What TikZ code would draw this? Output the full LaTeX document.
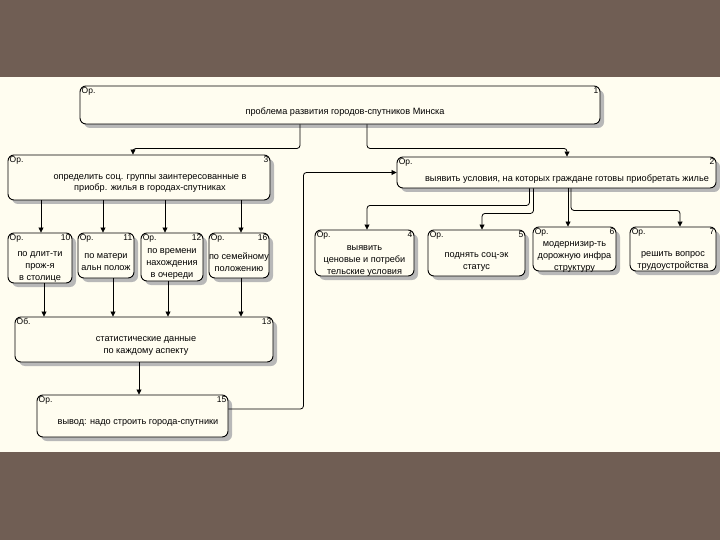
\documentclass[tikz,border=0pt]{standalone}
\usepackage{fontspec}
\setmainfont{Liberation Sans}
\usetikzlibrary{arrows.meta,shadows}

\definecolor{frame}{RGB}{112,94,84}
\definecolor{paper}{RGB}{255,253,240}

\tikzset{
  blk/.style={draw, line width=0.9bp, rounded corners=6bp, fill=paper, inner sep=0pt,
    drop shadow={shadow xshift=4bp, shadow yshift=-4bp, fill=black!28, opacity=1}},
  tag/.style={anchor=north west, inner sep=2bp, font=\fontsize{8.5}{9}\selectfont},
  num/.style={anchor=north east, inner sep=2bp, font=\fontsize{8.5}{9}\selectfont},
  txt/.style={align=center, inner sep=0pt, font=\fontsize{9.2}{11.8}\selectfont},
  arr/.style={-{Triangle[length=5bp,width=5bp]}, line width=0.8bp, rounded corners=3bp}
}

\begin{document}
\begin{tikzpicture}[x=1bp, y=-1bp]
        % Slide frame
        \fill[frame] (0,0) rectangle (720,540);
        \fill[paper] (0,77) rectangle (720,452);
        \useasboundingbox (0,0) rectangle (720,540);

        % Top-level problem
        \node[blk, minimum width=520bp, minimum height=38bp] (b1) at (340,105) {};
        \node[tag] (b1o) at (b1.north west) {Ор.};
        \node[num] (b1n) at (b1.north east) {1};
        \node[txt] (t1) at (345,112) {проблема развития городов-спутников Минска};

        % Social groups
        \node[blk, minimum width=262bp, minimum height=45bp] (b3) at (139,177.5) {};
        \node[tag] (b3o) at (b3.north west) {Ор.};
        \node[num] (b3n) at (b3.north east) {3};
        \node[txt] (t3) at (150,183.5) {определить соц. группы заинтересованные в\\приобр. жилья в городах-спутниках};

        % Purchase conditions
        \node[blk, minimum width=319bp, minimum height=31bp] (b2) at (556.5,172.5) {};
        \node[tag] (b2o) at (b2.north west) {Ор.};
        \node[num] (b2n) at (b2.north east) {2};
        \node[txt] (t2) at (567,179) {выявить условия, на которых граждане готовы приобретать жилье};

        % Grouping criteria
        \node[blk, minimum width=64bp, minimum height=50bp] (b10) at (40,258) {};
        \node[tag] (b10o) at (b10.north west) {Ор.};
        \node[num] (b10n) at (b10.north east) {10};
        \node[txt] (t10) at (40,267) {по длит-ти\\прож-я\\в столице};

        \node[blk, minimum width=56bp, minimum height=45bp] (b11) at (106,255.5) {};
        \node[tag] (b11o) at (b11.north west) {Ор.};
        \node[num] (b11n) at (b11.north east) {11};
        \node[txt] (t11) at (106,262) {по матери\\альн полож};

        \node[blk, minimum width=62bp, minimum height=48bp] (b12) at (172,257) {};
        \node[tag] (b12o) at (b12.north west) {Ор.};
        \node[num] (b12n) at (b12.north east) {12};
        \node[txt] (t12) at (172,264) {по времени\\нахождения\\в очереди};

        \node[blk, minimum width=60bp, minimum height=45bp] (b16) at (239,255.5) {};
        \node[tag] (b16o) at (b16.north west) {Ор.};
        \node[num] (b16n) at (b16.north east) {16};
        \node[txt] (t16) at (239,262) {по семейному\\положению};

        % Conditions
        \node[blk, minimum width=99bp, minimum height=46bp] (b4) at (364.5,253) {};
        \node[tag] (b4o) at (b4.north west) {Ор.};
        \node[num] (b4n) at (b4.north east) {4};
        \node[txt] (t4) at (364.5,261) {выявить\\ценовые и потреби\\тельские условия};

        \node[blk, minimum width=97bp, minimum height=46bp] (b5) at (476.5,253) {};
        \node[tag] (b5o) at (b5.north west) {Ор.};
        \node[num] (b5n) at (b5.north east) {5};
        \node[txt] (t5) at (476.5,262) {поднять соц-эк\\статус};

        \node[blk, minimum width=83bp, minimum height=44bp] (b6) at (574.5,249) {};
        \node[tag] (b6o) at (b6.north west) {Ор.};
        \node[num] (b6n) at (b6.north east) {6};
        \node[txt] (t6) at (574.5,257) {модернизир-ть\\дорожную инфра\\структуру};

        \node[blk, minimum width=86bp, minimum height=44bp] (b7) at (673,249) {};
        \node[tag] (b7o) at (b7.north west) {Ор.};
        \node[num] (b7n) at (b7.north east) {7};
        \node[txt] (t7) at (673,261) {решить вопрос\\трудоустройства};

        % Statistics
        \node[blk, minimum width=258bp, minimum height=45bp] (b13) at (144,339.5) {};
        \node[tag] (b13o) at (b13.north west) {Об.};
        \node[num] (b13n) at (b13.north east) {13};
        \node[txt] (t13) at (146,346) {статистические данные\\по каждому аспекту};

        % Conclusion
        \node[blk, minimum width=191bp, minimum height=42bp] (b15) at (132.5,416) {};
        \node[tag] (b15o) at (b15.north west) {Ор.};
        \node[num] (b15n) at (b15.north east) {15};
        \node[txt] (t15) at (138,423) {вывод: надо строить города-спутники};

        % Arrows from the problem
        \draw[arr] ([xshift=-40bp]b1.south) -- ++(0,24) -| ([xshift=-6bp]b3.north);
        \draw[arr] ([xshift=27bp]b1.south) -- ++(0,24) -| ([xshift=10.5bp]b2.north);

        % Arrows to the criteria
        \draw[arr] ([xshift=1bp]b10.north |- b3.south) -- ([xshift=1bp]b10.north);
        \draw[arr] ([xshift=-3bp]b11.north |- b3.south) -- ([xshift=-3bp]b11.north);
        \draw[arr] ([xshift=-7bp]b12.north |- b3.south) -- ([xshift=-7bp]b12.north);
        \draw[arr] ([xshift=2bp]b16.north |- b3.south) -- ([xshift=2bp]b16.north);

        % Arrows to the statistics
        \draw[arr] ([xshift=4bp]b10.south) -- ([xshift=4bp]b10.south |- b13.north);
        \draw[arr] ([xshift=7bp]b11.south) -- ([xshift=7bp]b11.south |- b13.north);
        \draw[arr] ([xshift=-4bp]b12.south) -- ([xshift=-4bp]b12.south |- b13.north);
        \draw[arr] ([xshift=2bp]b16.south) -- ([xshift=2bp]b16.south |- b13.north);
        \draw[arr] ([xshift=-5bp]b13.south) -- ([xshift=-5bp]b13.south |- b15.north);

        % Arrows to the conditions
        \draw[arr] ([xshift=-27bp]b2.south) -- ++(0,17) -| ([xshift=2.5bp]b4.north);
        \draw[arr] ([xshift=-23bp]b2.south) -- ++(0,25) -| ([xshift=5.5bp]b5.north);
        \draw[arr] ([xshift=11.5bp]b2.south) -- ([xshift=11.5bp]b2.south |- b6.north);
        \draw[arr] ([xshift=14.5bp]b2.south) -- ++(0,22) -| ([xshift=7bp]b7.north);

        % Feedback from the conclusion
        \draw[arr] ([yshift=7bp]b15.east) -- ++(75,0) |- (b2.west);
\end{tikzpicture}
\end{document}
